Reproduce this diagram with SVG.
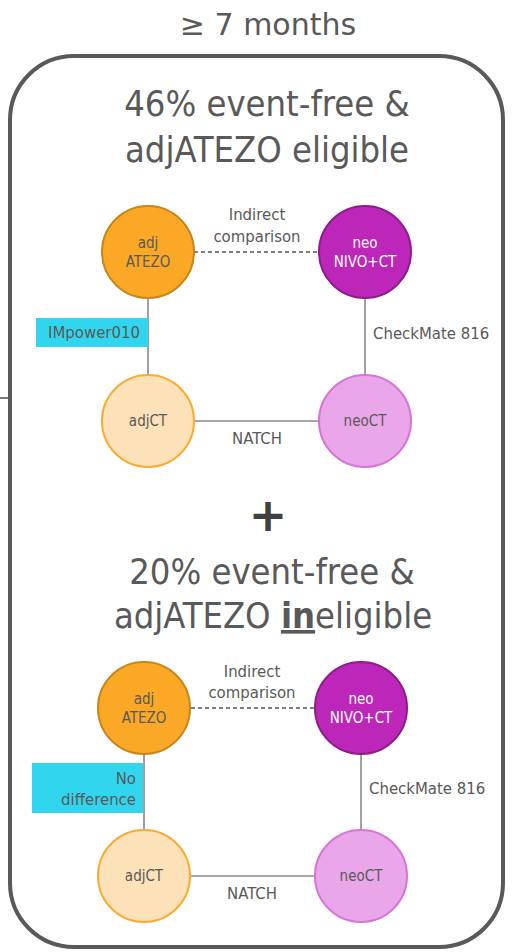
<svg xmlns="http://www.w3.org/2000/svg" width="513" height="952" viewBox="0 0 513 952">
  <style>
    text { font-family: "DejaVu Sans Condensed", "DejaVu Sans", sans-serif; fill: #595959; }
    .title { font-family: "DejaVu Sans", sans-serif; font-size: 30px; }
    .head { font-size: 36px; text-anchor: middle; }
    .lbl { font-size: 16.6px; }
    .node { font-size: 15px; text-anchor: middle; }
    .light { fill: #fff; }
    .edge { stroke: #8a8a8a; stroke-width: 1.6; fill: none; }
    .dash { stroke-dasharray: 4 3; stroke: #555; }
    .atezo { fill: #FBA826; stroke: #C98617; stroke-width: 2; }
    .nivo { fill: #BC27B9; stroke: #8F1A8C; stroke-width: 2; }
    .adjct { fill: #FDE1B8; stroke: #FBAA2E; stroke-width: 2; }
    .neoct { fill: #E9A6E9; stroke: #D873D8; stroke-width: 2; }
    .tag { fill: #31D5EE; }
  </style>

  <!-- frame -->
  <line x1="0" y1="398" x2="10" y2="398" stroke="#595959" stroke-width="1.6"/>
  <rect x="10" y="56" width="493" height="891" rx="64" ry="64" fill="#fff" stroke="#595959" stroke-width="4"/>
  <text class="title" x="268" y="35" text-anchor="middle">≥ 7 months</text>

  <!-- upper scenario -->
  <text class="head" x="267" y="116">46% event-free &amp;</text>
  <text class="head" x="267" y="162">adjATEZO eligible</text>

  <g id="connectors-upper">
    <line class="edge dash" x1="194" y1="252" x2="319" y2="252"/>
    <line class="edge" x1="148" y1="298" x2="148" y2="375"/>
    <line class="edge" x1="365" y1="298" x2="365" y2="375"/>
    <line class="edge" x1="194" y1="421" x2="319" y2="421"/>
    <rect class="tag" x="36" y="318" width="112" height="29"/>
    <text class="lbl" x="94" y="338" text-anchor="middle">IMpower010</text>
    <text class="lbl" x="257" y="220" text-anchor="middle">Indirect</text>
    <text class="lbl" x="257" y="242" text-anchor="middle">comparison</text>
    <text class="lbl" x="373" y="339">CheckMate 816</text>
    <text class="lbl" x="257" y="444" text-anchor="middle">NATCH</text>
  </g>

  <g id="u-adj-atezo">
    <circle class="atezo" cx="148" cy="252" r="46"/>
    <text class="node" x="148" y="248">adj</text>
    <text class="node" x="148" y="267">ATEZO</text>
  </g>
  <g id="u-neo-nivo-ct">
    <circle class="nivo" cx="365" cy="252" r="46"/>
    <text class="node light" x="365" y="248">neo</text>
    <text class="node light" x="365" y="267">NIVO+CT</text>
  </g>
  <g id="u-adjct">
    <circle class="adjct" cx="148" cy="421" r="46"/>
    <text class="node" x="148" y="426">adjCT</text>
  </g>
  <g id="u-neoct">
    <circle class="neoct" cx="365" cy="421" r="46"/>
    <text class="node" x="365" y="426">neoCT</text>
  </g>

  <!-- combining sign -->
  <text x="268" y="531" text-anchor="middle" style="font-family:'DejaVu Sans',sans-serif;font-size:46px;font-weight:bold;fill:#404040">+</text>

  <!-- lower scenario -->
  <text class="head" x="272" y="584">20% event-free &amp;</text>
  <text class="head" x="273" y="628">adjATEZO <tspan font-weight="bold" text-decoration="underline">in</tspan>eligible</text>

  <g id="connectors-lower">
    <line class="edge dash" x1="191" y1="708" x2="314" y2="708"/>
    <line class="edge" x1="144" y1="754" x2="144" y2="830"/>
    <line class="edge" x1="361" y1="754" x2="361" y2="830"/>
    <line class="edge" x1="191" y1="876" x2="314" y2="876"/>
    <rect class="tag" x="32" y="763" width="111" height="50"/>
    <text class="lbl" x="136" y="784" text-anchor="end">No</text>
    <text class="lbl" x="136" y="805" text-anchor="end">difference</text>
    <text class="lbl" x="252" y="677" text-anchor="middle">Indirect</text>
    <text class="lbl" x="252" y="698" text-anchor="middle">comparison</text>
    <text class="lbl" x="369" y="794">CheckMate 816</text>
    <text class="lbl" x="252" y="899" text-anchor="middle">NATCH</text>
  </g>

  <g id="l-adj-atezo">
    <circle class="atezo" cx="144" cy="708" r="46"/>
    <text class="node" x="144" y="704">adj</text>
    <text class="node" x="144" y="723">ATEZO</text>
  </g>
  <g id="l-neo-nivo-ct">
    <circle class="nivo" cx="361" cy="708" r="46"/>
    <text class="node light" x="361" y="704">neo</text>
    <text class="node light" x="361" y="723">NIVO+CT</text>
  </g>
  <g id="l-adjct">
    <circle class="adjct" cx="144" cy="876" r="46"/>
    <text class="node" x="144" y="881">adjCT</text>
  </g>
  <g id="l-neoct">
    <circle class="neoct" cx="361" cy="876" r="46"/>
    <text class="node" x="361" y="881">neoCT</text>
  </g>
</svg>
